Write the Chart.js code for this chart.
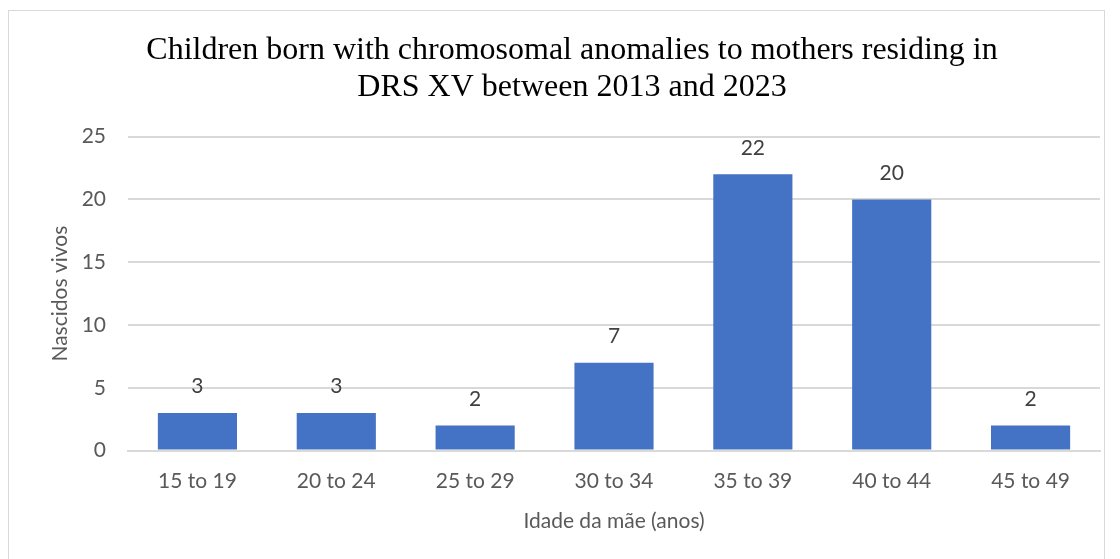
<!DOCTYPE html>
<html>
<head>
<meta charset="utf-8">
<script src="https://cdn.jsdelivr.net/npm/chart.js@4.4.0/dist/chart.umd.min.js"></script>
<style>
  html, body { margin: 0; padding: 0; background: #fff; }
  #frame { position: absolute; left: 8px; top: 10px; width: 1097px; height: 560px; border: 1px solid #d9d9d9; box-sizing: border-box; }
  #wrap { position: absolute; left: 0; top: 0; width: 1120px; height: 559px; }
</style>
</head>
<body>
<div id="frame"></div>
<div id="wrap"><canvas id="myChart"></canvas></div>
<script>
var categories = ["15 to 19", "20 to 24", "25 to 29", "30 to 34", "35 to 39", "40 to 44", "45 to 49"];
var births = [3, 3, 2, 7, 22, 20, 2];
var yTicks = [0, 5, 10, 15, 20, 25];

// draws the value above each bar
var valueLabels = {
  id: 'valueLabels',
  afterDatasetsDraw: function(chart) {
    var ctx = chart.ctx;
    var meta = chart.getDatasetMeta(0);
    ctx.save();
    ctx.font = '21px Lato';
    ctx.fillStyle = '#404040';
    ctx.textAlign = 'center';
    ctx.textBaseline = 'bottom';
    meta.data.forEach(function(bar, i) {
      ctx.fillText(births[i], bar.x, bar.y - 16);
    });
    ctx.restore();
  }
};

var ctx = document.getElementById("myChart").getContext('2d');
var myChart = new Chart(ctx, {
  type: 'bar',
  data: {
    labels: categories,
    datasets: [{
      data: births,
      backgroundColor: "#4472c4",
      barPercentage: 0.57,
      categoryPercentage: 1.0
    }]
  },
  plugins: [valueLabels],
  options: {
    responsive: true,
    maintainAspectRatio: false,
    animation: false,
    layout: { padding: { left: 44, right: 20, top: 22, bottom: 21 } },
    plugins: {
      legend: { display: false },
      tooltip: { enabled: false },
      title: {
        display: true,
        text: ["Children born with chromosomal anomalies to mothers residing in", "DRS XV between 2013 and 2023"],
        font: { family: 'Liberation Serif', size: 32, weight: 'normal', lineHeight: 1.15 },
        color: '#000',
        padding: { top: 10, bottom: 31 }
      }
    },
    scales: {
      x: {
        grid: { display: false },
        border: { color: '#d9d9d9', width: 2 },
        ticks: { color: '#595959', font: { family: 'Lato', size: 21 }, padding: 10 },
        title: {
          display: true,
          text: 'Idade da mãe (anos)',
          color: '#595959',
          font: { family: 'Lato', size: 21 },
          padding: { top: 5 }
        }
      },
      y: {
        min: 0,
        max: 25,
        afterBuildTicks: function(axis) {
          axis.ticks = yTicks.map(function(v) { return { value: v }; });
        },
        afterFit: function(axis) {
          axis.width = 84;
        },
        grid: { color: '#d9d9d9', lineWidth: 2, drawTicks: false },
        border: { display: false },
        ticks: { color: '#595959', font: { family: 'Lato', size: 21 }, padding: 22 },
        title: {
          display: true,
          text: 'Nascidos vivos',
          color: '#595959',
          font: { family: 'Lato', size: 21 },
          padding: { bottom: 10 }
        }
      }
    }
  }
});
</script>
</body>
</html>
